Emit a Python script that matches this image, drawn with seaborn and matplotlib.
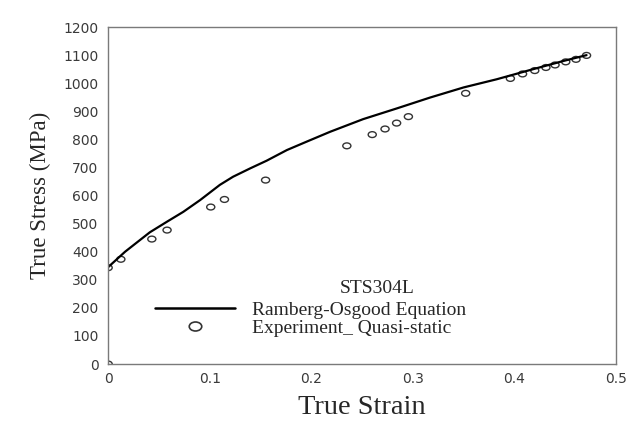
import numpy as np
import pandas as pd
import seaborn as sns
import matplotlib.pyplot as plt
from matplotlib.lines import Line2D
from matplotlib.path import Path

# %% data
curve_strain = [0.0, 0.0167, 0.041, 0.058, 0.074, 0.0906, 0.110, 0.123, 0.140,
                0.156, 0.176, 0.1955, 0.2185, 0.251, 0.284, 0.317, 0.350,
                0.3825, 0.4154, 0.448, 0.471]
curve_stress = [345, 400, 469, 507, 542, 584, 638, 667, 697,
                724, 762, 792, 827, 872, 910, 949, 985,
                1014, 1047, 1079, 1100]

exp_strain = [0.0, 0.0, 0.0125, 0.043, 0.058, 0.101, 0.1145, 0.155, 0.235,
              0.260, 0.2726, 0.284, 0.2956, 0.352, 0.396, 0.408, 0.420,
              0.431, 0.440, 0.4505, 0.4606, 0.471]
exp_stress = [0, 343, 373, 445, 477, 559, 586, 655, 777,
              817, 837, 858, 881, 964, 1017, 1033, 1045,
              1056, 1065, 1076, 1085, 1099]

x_ticks = [0, 0.1, 0.2, 0.3, 0.4, 0.5]
x_labels = ["0", "0.1", "0.2", "0.3", "0.4", "0.5"]
y_ticks = list(range(0, 1300, 100))

curve = pd.DataFrame({"strain": curve_strain, "stress": curve_stress})
exp = pd.DataFrame({"strain": exp_strain, "stress": exp_stress})

# %% style
sns.set_style("white")
serif = "Liberation Serif"
grey = "#7a7a7a"

# squashed circle, the source image is stretched sideways
circ = Path.unit_circle()
ellipse = Path(circ.vertices * np.array([1.0, 0.72]), circ.codes)

fig = plt.figure(figsize=(6.4, 4.26), dpi=100)
ax = fig.add_axes([0.169, 0.1455, 0.7935, 0.791])

sns.lineplot(data=curve, x="strain", y="stress", color="black", linewidth=1.6, ax=ax)
sns.scatterplot(data=exp, x="strain", y="stress", marker=ellipse, s=34,
                facecolor="none", edgecolor="#333333", linewidth=1.0, ax=ax)

ax.set_xlim(0, 0.5)
ax.set_ylim(0, 1200)
ax.set_xticks(x_ticks)
ax.set_xticklabels(x_labels)
ax.set_xticks([0.05, 0.15, 0.25, 0.35, 0.45], minor=True)
ax.set_yticks(y_ticks)

ax.tick_params(axis="both", which="major", direction="in", length=7, width=1.2,
               color=grey, labelsize=10, labelcolor="#3a3a3a")
ax.tick_params(axis="x", which="minor", direction="in", length=4, width=1.0, color=grey)
ax.tick_params(axis="y", pad=7)
ax.tick_params(axis="x", pad=6)
for sp in ax.spines.values():
    sp.set_color(grey)
    sp.set_linewidth(1.0)

ax.set_xlabel("True Strain", fontfamily=serif, fontsize=20.5, labelpad=6)
ax.set_ylabel("True Stress (MPa)", fontfamily=serif, fontsize=16.5, labelpad=9)

# legend
handles = [
    Line2D([], [], color="black", linewidth=1.8),
    Line2D([], [], linestyle="none", marker=ellipse, markersize=9,
           markerfacecolor="none", markeredgecolor="#333333", markeredgewidth=1.2),
]
labels = ["Ramberg-Osgood Equation", "Experiment_ Quasi-static"]
ax.legend(handles, labels, loc="upper left", bbox_to_anchor=(0.093, 0.186),
          frameon=False, handlelength=4.1, handletextpad=0.85, labelspacing=0.0,
          borderpad=0, borderaxespad=0, prop={"family": serif, "size": 14})
ax.text(0.5295, 0.2255, "STS304L", transform=ax.transAxes, ha="center", va="center",
        fontfamily=serif, fontsize=14)

fig.savefig("out.png", dpi=100)
